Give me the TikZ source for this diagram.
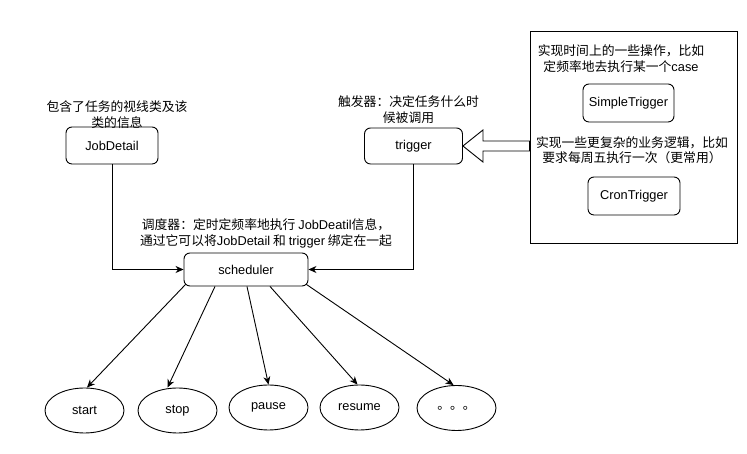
\documentclass[tikz,border=0pt]{standalone}
\usepackage{fontspec}
\setmainfont{Liberation Sans}
\newfontfamily\cjk{Noto Sans CJK SC}
\usetikzlibrary{arrows.meta,positioning,calc,shapes.geometric}

\begin{document}
\begin{tikzpicture}[x=1pt, y=1pt, >={Stealth[length=8pt,width=7pt,inset=2.5pt]}, line width=0.9pt,
  every node/.style={font=\fontsize{12.8}{15.4}\selectfont},
  opbox/.style={draw, rounded corners=6pt, minimum width=92pt, minimum height=37pt, inner sep=0pt},
  opellipse/.style={draw, ellipse, minimum width=79pt, minimum height=45pt, inner sep=0pt},
  note/.style={align=center, inner sep=0pt, font=\fontsize{12.8}{15.4}\selectfont\cjk}]
  \useasboundingbox (0,0) rectangle (747,454);
  \node[opbox](jobdetail) at (112,308.5){JobDetail};
  \node[note](jobnote) at (117,339.5){包含了任务的视线类及该\\类的信息};
  \node[opbox, minimum width=98pt, minimum height=36pt](trigger) at (413.5,308){trigger};
  \node[note](trignote) at (408.5,344.5){触发器：决定任务什么时\\候被调用};
  \node[draw, sharp corners, minimum width=207pt, minimum height=212pt](grp) at (633.5,317){};
  \node[note](simplenote) at (621,395.5){实现时间上的一些操作，比如\\定频率地去执行某一个{\rmfamily case}};
  \node[opbox, minimum width=91pt, minimum height=38pt](simple) at (628.5,351){SimpleTrigger};
  \node[note](cronnote) at (632,304){实现一些更复杂的业务逻辑，比如\\要求每周五执行一次（更常用）};
  \node[opbox, minimum height=38pt](cron) at (634,258){CronTrigger};
  \node[opbox, minimum width=124pt, minimum height=33pt](scheduler) at (246,184.5){scheduler};
  \node[note](schednote) at (266,220.5){调度器：定时定频率地执行 {\rmfamily JobDeatil}信息，\\通过它可以将{\rmfamily JobDetail} 和 {\rmfamily trigger} 绑定在一起};
  \node[opellipse](start) at (84.5,43.5){start};
  \node[opellipse](stop) at (177.5,43.5){stop};
  \node[opellipse](pause) at (268.5,46.5){pause};
  \node[opellipse](resume) at (359.5,46.5){resume};
  \node[opellipse](more) at (456.5,46){\cjk 。。。};
  \draw[->](jobdetail) |- (scheduler);
  \draw[->](trigger) |- (scheduler);
  \draw[fill=white] (trigger.east) -- ++(20,16) -- ++(0,-11) -- ($(trigger.east -| grp.west)+(0,5)$)
    -- ++(0,-10) -- ($(trigger.east)+(20,-5)$) -- ++(0,-11) -- cycle;
  \draw[->]([shift={(2,2)}]scheduler.south west) -- ([xshift=2.5]start.north);
  \draw[->]([xshift=-31]scheduler.south) -- ([xshift=-10]stop.north);
  \draw[->]([xshift=1]scheduler.south) -- (pause.north);
  \draw[->]([xshift=24]scheduler.south) -- ([xshift=-2]resume.north);
  \draw[->]([shift={(-2,2)}]scheduler.south east) -- ([xshift=-3]more.north);
\end{tikzpicture}
\end{document}
